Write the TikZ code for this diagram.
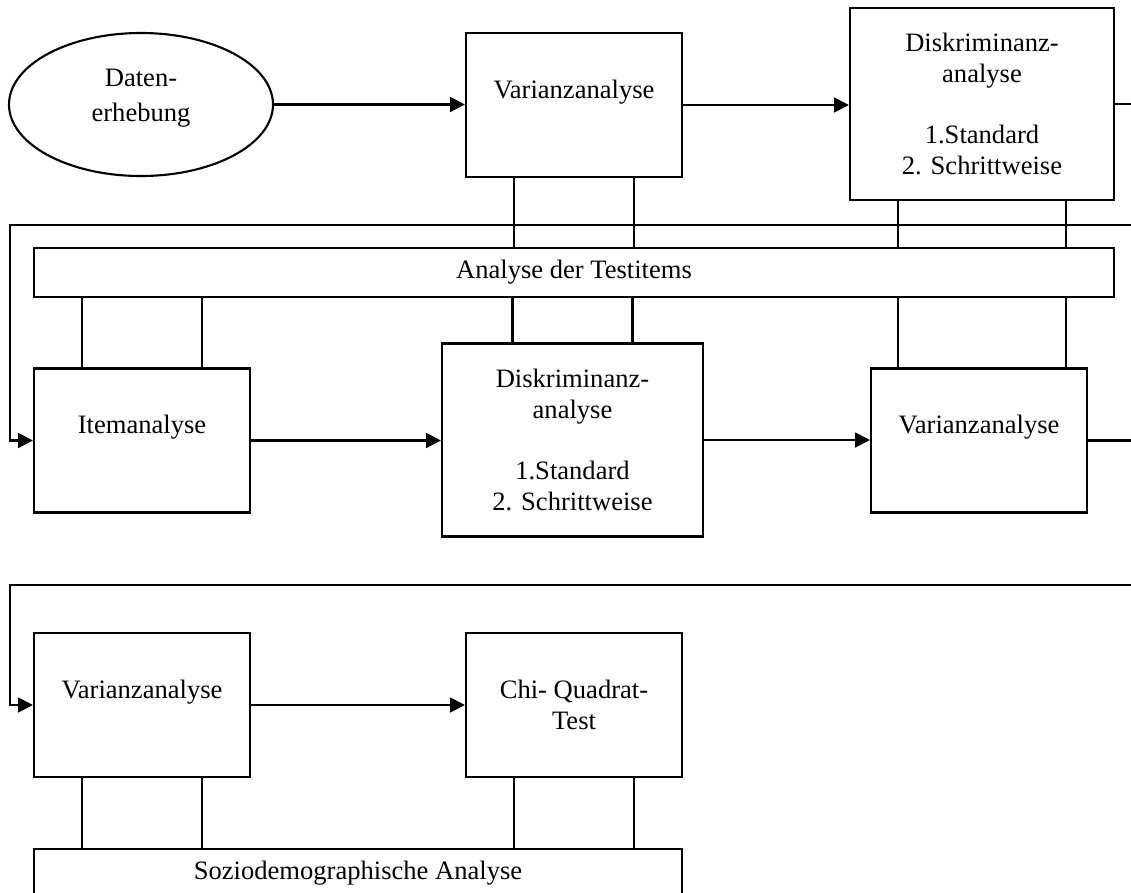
\documentclass[tikz,border=0pt]{standalone}
\usepackage{fontspec}
\setmainfont{Liberation Serif}
\usetikzlibrary{shapes.geometric}
\usetikzlibrary{arrows.meta}

\begin{document}
\begin{tikzpicture}[>={Triangle[length=3.7mm,width=3.7mm]}, line width=1.5pt,
  every node/.style={font=\fontsize{18.9}{22}\selectfont},
  box/.style={draw, rectangle, align=center, minimum width=5.4cm, minimum height=3.6cm},
  wide/.style={draw, rectangle, minimum height=1.225cm},
  onerow/.style={text depth=0.8cm}]
  \useasboundingbox (0,0) rectangle (28.275,-22.3);

  \node[draw, ellipse, align=center, inner sep=0pt, minimum width=6.6cm, minimum height=3.575cm] (erhebung) at (3.525,-2.6125) {Daten-\\[3pt]erhebung\\[-9pt]};
  \node[box, onerow] (varianz1) at (14.35,-2.625) {Varianzanalyse};
  \node[box, minimum width=6.6cm, minimum height=4.8cm] (diskrim1) at (24.55,-2.6) {Diskriminanz-\\analyse\\[22pt]1.Standard\\2. Schrittweise};
  \node[wide, minimum width=27cm] (testitems) at (14.35,-6.8125) {Analyse der Testitems};
  \node[box, onerow] (item) at (3.55,-11.0125) {Itemanalyse};
  \node[box, minimum width=6.525cm, minimum height=4.825cm] (diskrim2) at (14.3125,-11) {Diskriminanz-\\analyse\\[22pt]1.Standard\\2. Schrittweise};
  \node[box, onerow] (varianz2) at (24.475,-11.0125) {Varianzanalyse};
  \node[box, onerow] (varianz3) at (3.55,-17.625) {Varianzanalyse};
  \node[box] (chi) at (14.35,-17.625) {Chi- Quadrat-\\Test};
  \node[wide, minimum width=16.2cm] (sozio) at (8.95,-21.8375) {Soziodemographische Analyse};

  % lines running off the right edge and back in on the left
  \coordinate (rechts1) at (28.275,-2.6);
  \coordinate (rueck1) at (28.275,-5.625);
  \coordinate (links1) at (0.25,-5.625);
  \coordinate (rechts2) at (28.275,-11.0125);
  \coordinate (rueck2) at (28.275,-14.625);
  \coordinate (links2) at (0.25,-14.625);

  \draw[->] (erhebung.east) -- (erhebung.east -| varianz1.west);
  \draw[->] (varianz1.east) -- (varianz1.east -| diskrim1.west);
  \draw (diskrim1.east) -- (rechts1);
  \draw[->] (rueck1) -- (links1) |- (item.west);
  \draw[->] (item.east) -- (item.east -| diskrim2.west);
  \draw[->] (diskrim2.east) -- (diskrim2.east -| varianz2.west);
  \draw (varianz2.east) -- (rechts2);
  \draw[->] (rueck2) -- (links2) |- (varianz3.west);
  \draw[->] (varianz3.east) -- (chi.west);

  % links to the two analysis bars
  \foreach \dx in {-1.5cm, 1.5cm} {
    \draw ([xshift=\dx]varianz1.south) -- ([xshift=\dx]varianz1.south |- testitems.north);
    \draw ([xshift=\dx]item.north) -- ([xshift=\dx]item.north |- testitems.south);
    \draw ([xshift=\dx]diskrim2.north) -- ([xshift=\dx]diskrim2.north |- testitems.south);
    \draw ([xshift=\dx]varianz3.south) -- ([xshift=\dx]varianz3.south |- sozio.north);
    \draw ([xshift=\dx]chi.south) -- ([xshift=\dx]chi.south |- sozio.north);
  }
  \foreach \dx in {-2.1cm, 2.1cm} {
    \draw ([xshift=\dx]diskrim1.south) -- ([xshift=\dx]diskrim1.south |- testitems.north);
    \draw ([xshift=\dx]diskrim1.south |- testitems.south) -- ([xshift=\dx]diskrim1.south |- varianz2.north);
  }
\end{tikzpicture}
\end{document}
